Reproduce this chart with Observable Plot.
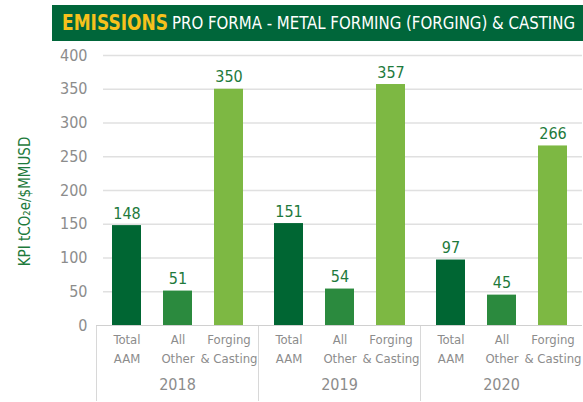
<!DOCTYPE html>
<html><head><meta charset="utf-8">
<script src="https://cdn.jsdelivr.net/npm/d3@7"></script>
<script src="https://cdn.jsdelivr.net/npm/@observablehq/plot@0.6"></script>
<style>
body{margin:0;background:#fff;width:583px;height:402px;overflow:hidden;font-family:"DejaVu Sans",sans-serif;font-stretch:condensed;}
#banner{position:relative;margin:5px 0 0 52px;height:36px;background:#00663a;white-space:nowrap;overflow:hidden}
#banner span{position:absolute;top:50%;transform-origin:left center;line-height:1}
#banner .a{left:10px;color:#f7c11c;font-family:"DejaVu Sans",sans-serif;font-weight:bold;font-size:22px;font-stretch:normal}
#banner .b{left:120px;color:#fff;font-size:18px;font-family:"DejaVu Sans",sans-serif;font-stretch:condensed;}
svg text{font-stretch:condensed}
</style></head><body>
<div id="banner"><span class="a" data-w="106">EMISSIONS</span><span class="b" data-w="403">PRO FORMA - METAL FORMING (FORGING) &amp; CASTING</span></div>
<div id="chart"></div>
<script>
const years = ["2018", "2019", "2020"];
const categories = ["Total AAM", "All Other", "Forging & Casting"];
const categoryLabels = ["Total\nAAM", "All\nOther", "Forging\n& Casting"];
const totalAAM = [148, 151, 97];
const allOther = [51, 54, 45];
const forgingCasting = [350, 357, 266];
const yTicks = [0, 50, 100, 150, 200, 250, 300, 350, 400];
const yLabel = "KPI tCO₂e/$MMUSD";
const colors = ["#006633", "#2b8a3e", "#7db843"];

// fit banner text widths
document.querySelectorAll("#banner span").forEach(s => {
  const w = s.getBoundingClientRect().width;
  s.style.transform = `translateY(-50%) scaleX(${(+s.dataset.w) / w})`;
});

const series = [totalAAM, allOther, forgingCasting];
const data = [];
years.forEach((yr, i) => categories.forEach((c, j) => data.push({year: yr, category: c, value: series[j][i]})));
const grid = [];
years.forEach(yr => yTicks.filter(t => t > 0).forEach(t => grid.push({year: yr, t})));

const font = "'DejaVu Sans',sans-serif";
const chart = Plot.plot({
  width: 583,
  height: 361,
  marginTop: 14,
  marginBottom: 77,
  marginLeft: 96,
  marginRight: 1,
  style: {fontFamily: font, background: "#fff"},
  fx: {domain: years, paddingInner: 0, paddingOuter: 0},
  x: {domain: categories, paddingInner: 0.437, paddingOuter: 0.29},
  y: {domain: [0, 400]},
  color: {domain: categories, range: colors},
  marks: [
    Plot.ruleY(grid.filter(d => d.year === years[0]), {fx: "year", y: "t", stroke: "#e0e0e0", strokeWidth: 1.5, insetLeft: 7}),
    Plot.ruleY(grid.filter(d => d.year !== years[0]), {fx: "year", y: "t", stroke: "#e0e0e0", strokeWidth: 1.5}),
    Plot.frame({anchor: "left", stroke: "#d8d8d8", insetTop: 270, insetBottom: -75}),
    Plot.barY(data, {fx: "year", x: "category", y: "value", fill: "category"}),
    Plot.ruleY([0], {stroke: "#d0d0d0", strokeWidth: 1.2}),
    Plot.text(data, {fx: "year", x: "category", y: "value", text: d => String(d.value), dy: -12, fill: "#1e7a3c", fontSize: 16}),
    Plot.axisY({ticks: yTicks, tickSize: 0, tickPadding: 9, fontSize: 16, fill: "#8c8c8c", label: null}),
    Plot.text([yLabel], {fx: () => years[0], frameAnchor: "left", textAnchor: "middle", dx: -71, dy: 11, rotate: -90, fill: "#1e7a3c", fontSize: 15}),
    Plot.axisX({tickSize: 0, tickPadding: 5, tickFormat: c => categoryLabels[categories.indexOf(c)], fontSize: 13, fill: "#8c8c8c", lineHeight: 1.45, label: null}),
    Plot.axisFx({anchor: "bottom", tickSize: 0, tickPadding: 53, fontSize: 16, fill: "#8c8c8c", label: null})
  ]
});
document.getElementById("chart").appendChild(chart);
</script>
</body></html>
